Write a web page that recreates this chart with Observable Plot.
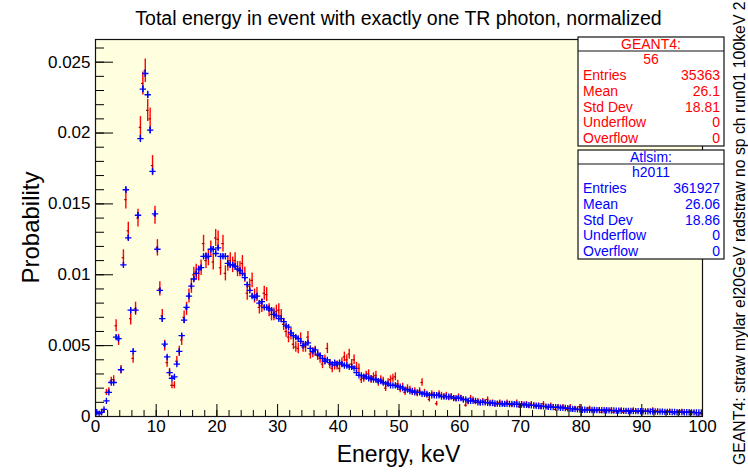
<!DOCTYPE html>
<html><head><meta charset="utf-8">
<script src="https://cdn.jsdelivr.net/npm/d3@7"></script>
<script src="https://cdn.jsdelivr.net/npm/@observablehq/plot@0.6"></script>
<style>body{margin:0;background:#fff;} svg{display:block}</style>
</head><body><div id="chart"></div>
<script>
// ---- data ----
const binWidth = 0.4; // keV, 250 bins from 0 to 100
const geantValues = [
0.0003,0.0002,0.0002,0.0004,0.0017,0.0018,0.0025,0.0026,0.0064,0.0054,
0.0033,0.0112,0.0153,0.0131,0.0069,0.0041,0.0076,0.0140,0.0204,0.0235,
0.0244,0.0216,0.0210,0.0177,0.0142,0.0119,0.0090,0.0071,0.0050,0.0038,
0.0031,0.0022,0.0022,0.0039,0.0046,0.0054,0.0070,0.0076,0.0085,0.0092,
0.0100,0.0102,0.0101,0.0105,0.0122,0.0110,0.0112,0.0118,0.0109,0.0126,
0.0125,0.0105,0.0122,0.0101,0.0108,0.0110,0.0107,0.0110,0.0104,0.0104,
0.0108,0.0100,0.0087,0.0092,0.0096,0.0085,0.0086,0.0077,0.0078,0.0087,
0.0086,0.0075,0.0072,0.0072,0.0074,0.0075,0.0071,0.0065,0.0060,0.0056,
0.0058,0.0051,0.0049,0.0048,0.0055,0.0049,0.0049,0.0056,0.0044,0.0045,
0.0046,0.0043,0.0041,0.0037,0.0040,0.0048,0.0037,0.0034,0.0036,
0.0036,0.0034,0.0038,0.0042,0.0040,0.0044,0.0037,0.0040,0.0035,0.0034,
0.0026,0.0027,0.0029,0.0030,0.0026,0.0028,0.0029,0.0024,0.0026,0.0025,
0.0020,0.0024,0.0026,0.0027,0.0028,0.0023,0.0019,0.0021,0.0017,0.0020,
0.0019,0.0017,0.0018,0.0016,0.0018,0.0024,0.0017,0.0015,0.0012,0.0016,
0.0015,0.0009,0.0016,0.0015,0.0014,0.0015,0.0013,0.0014,0.0013,0.0012,
0.0014,0.0013,0.0012,0.0008,0.0010,0.0013,0.0012,0.0010,0.0011,0.0009,
0.0011,0.0010,0.0012,0.0009,0.0010,0.0008,0.0009,0.0010,0.0009,0.0008,
0.0010,0.0009,0.0008,0.0009,0.0010,0.0007,0.0009,0.0008,0.0009,0.0007,
0.0009,0.0008,0.0007,0.0008,0.0006,0.0009,0.0007,0.0006,0.0008,0.0007,
0.0005,0.0007,0.0006,0.0007,0.0006,0.0005,0.0007,0.0004,0.0006,0.0005,
0.0007,0.0005,0.0004,0.0005,0.0006,0.0004,0.0005,0.0004,0.0005,0.0003,
0.0004,0.0005,0.0004,0.0005,0.0003,0.0004,0.0004,0.0005,0.0003,0.0004,
0.0004,0.0003,0.0005,0.0004,0.0003,0.0004,0.0003,0.0004,0.0004,0.0003,
0.0005,0.0003,0.0004,0.0003,0.0004,0.0003,0.0003,0.0004,0.0003,0.0002,
0.0003,0.0003,0.0004,0.0002,0.0003,0.0003,0.0002,0.0003,0.0002,0.0001,
0.0002
];
const atlsimValues = [
0.0003,0.0002,0.0003,0.0005,0.0011,0.0017,0.0024,0.0024,0.0056,0.0055,
0.0033,0.0107,0.0160,0.0126,0.0075,0.0046,0.0075,0.0142,0.0196,0.0231,
0.0242,0.0227,0.0202,0.0173,0.0143,0.0118,0.0089,0.0069,0.0051,0.0042,
0.0031,0.0027,0.0028,0.0037,0.0046,0.0057,0.0068,0.0077,0.0085,0.0092,
0.0097,0.0101,0.0104,0.0105,0.0113,0.0113,0.0113,0.0118,0.0118,0.0115,
0.0119,0.0113,0.0113,0.0113,0.0108,0.0107,0.0107,0.0106,0.0104,0.0103,
0.0101,0.0098,0.0093,0.0089,0.0085,0.0084,0.0085,0.0080,0.0081,0.0077,
0.0077,0.0076,0.0075,0.0072,0.0071,0.0069,0.0069,0.0067,0.0064,0.0063,
0.0059,0.0057,0.0056,0.0055,0.0053,0.0050,0.0051,0.0052,0.0048,0.0046,
0.0047,0.0044,0.0043,0.0041,0.0039,0.0040,0.0038,0.0037,0.0038,
0.0037,0.0038,0.0037,0.0036,0.0036,0.0035,0.0035,0.0034,0.0031,0.0029,
0.0029,0.0028,0.0028,0.0027,0.0027,0.0026,0.0026,0.0025,0.0025,0.0024,
0.0023,0.0023,0.0022,0.0022,0.0022,0.0021,0.0021,0.0020,0.0019,0.0019,
0.0018,0.0018,0.0017,0.0017,0.0017,0.0016,0.0016,0.0016,0.0015,0.0015,
0.0015,0.0015,0.0015,0.0014,0.0014,0.0014,0.0014,0.0014,0.0013,0.0013,
0.0013,0.0013,0.0012,0.0012,0.0011,0.0011,0.0011,0.0011,0.0010,0.0010,
0.0010,0.0010,0.00097,0.00095,0.00094,0.00092,0.00091,0.0009,0.0009,0.00089,
0.00089,0.00088,0.00088,0.00087,0.00086,0.00085,0.00085,0.00083,0.00082,0.0008,
0.00079,0.00078,0.00076,0.00074,0.00073,0.00071,0.0007,0.00068,0.00067,0.00066,
0.00065,0.00064,0.00062,0.00061,0.0006,0.00058,0.00056,0.00054,0.00052,0.0005,
0.00049,0.00048,0.00048,0.00047,0.00047,0.00046,0.00046,0.00045,0.00045,0.00044,
0.00044,0.00043,0.00043,0.00042,0.00042,0.00041,0.00041,0.0004,0.0004,0.0004,
0.00039,0.00039,0.00038,0.00038,0.00038,0.00037,0.00037,0.00036,0.00036,0.00036,
0.00035,0.00035,0.00035,0.00034,0.00034,0.00033,0.00033,0.00033,0.00032,0.00032,
0.00031,0.00031,0.00031,0.0003,0.0003,0.0003,0.00029,0.00029,0.00028,0.00028,
0.00028
];
const xTicks = [0, 10, 20, 30, 40, 50, 60, 70, 80, 90, 100];
const yTicks = [0, 0.005, 0.01, 0.015, 0.02, 0.025];
const statLabels = ["Entries", "Mean", "Std Dev", "Underflow", "Overflow"];
const geantStats = ["35363", "26.1", "18.81", "0", "0"];
const atlsimStats = ["361927", "26.06", "18.86", "0", "0"];
const geantEntries = 35363, atlsimEntries = 361927;

// ---- build tables ----
function table(values, entries) {
  return values.map((p, i) => ({e: (i + 0.5) * binWidth, p, err: Math.sqrt(p / entries)}));
}
const red = table(geantValues, geantEntries);
const blue = table(atlsimValues, atlsimEntries);
const xMinor = d3.range(0, 100.001, 2);
const yMinor = d3.range(0, 0.0265, 0.001);

const FONT = "'Liberation Sans', Arial, Helvetica, sans-serif";
const plot = Plot.plot({
  width: 748, height: 476,
  marginLeft: 95, marginRight: 46, marginTop: 39, marginBottom: 60,
  x: {domain: [0, 100]},
  y: {domain: [0, 0.0266]},
  style: {fontFamily: FONT, fontSize: "17px", background: "white", color: "black", overflow: "visible"},
  marks: [
    Plot.frame({fill: "#FFFFE0", stroke: null}),
    Plot.ruleX(red, {x: "e", y1: d => d.p - d.err, y2: d => d.p + d.err, stroke: "#ff0000", strokeWidth: 1.4, clip: true}),
    Plot.ruleY(red, {y: "p", x1: d => d.e - binWidth / 2, x2: d => d.e + binWidth / 2, stroke: "#aa0000", strokeWidth: 1.2, clip: true}),
    Plot.ruleX(blue, {x: "e", y1: d => d.p - d.err, y2: d => d.p + d.err, stroke: "#0000ff", strokeWidth: 1.3, clip: true}),
    Plot.dot(blue, {x: "e", y: "p", symbol: "plus", r: 2.2, stroke: "#0000ff", strokeWidth: 1.3, clip: true}),
    Plot.axisX({ticks: xMinor, tickSize: -6, tickPadding: 0, tickFormat: () => "", label: null}),
    Plot.axisX({ticks: xTicks, tickSize: -12, tickPadding: 15, tickFormat: d => String(d), label: null, fontSize: 17}),
    Plot.axisY({ticks: yMinor, tickSize: -9, tickPadding: 0, tickFormat: () => "", label: null}),
    Plot.axisY({ticks: yTicks, tickSize: -18, tickPadding: 23, tickFormat: d => String(d), label: null, fontSize: 17}),
    Plot.frame({stroke: "#111", strokeWidth: 1.2})
  ]
});
document.getElementById("chart").appendChild(plot);

// ---- annotations ----
const sx = plot.scale("x"), sy = plot.scale("y");
const xl = sx.apply(0), xr = sx.apply(100), yb = sy.apply(0), yt = sy.apply(0.0266);
const svg = d3.select(plot);
const g = svg.append("g").attr("font-family", FONT).attr("text-anchor", "start");
g.append("text").attr("x", (xl + xr) / 2).attr("y", 25).attr("text-anchor", "middle")
  .attr("font-size", 19.5).text("Total energy in event with exactly one TR photon, normalized");
g.append("text").attr("x", (xl + xr) / 2).attr("y", 462).attr("text-anchor", "middle")
  .attr("font-size", 23).text("Energy, keV");
g.append("text").attr("transform", `translate(39,${(yb + yt) / 2}) rotate(-90)`).attr("text-anchor", "middle")
  .attr("font-size", 24).text("Probability");
g.append("text").attr("transform", `translate(745,465) rotate(-90)`).attr("text-anchor", "start")
  .attr("font-size", 15.8).text("GEANT4: straw mylar el20GeV radstraw no sp ch run01 100keV 2");

function statBox(top, color, header, name, values) {
  const left = 578, w = 146, hdr = 14, rows = 16;
  const box = g.append("g");
  box.append("rect").attr("x", left).attr("y", top).attr("width", w).attr("height", hdr + rows * 6 - 1)
    .attr("fill", "white").attr("stroke", "#111").attr("stroke-width", 1.2);
  box.append("line").attr("x1", left).attr("x2", left + w).attr("y1", top + hdr).attr("y2", top + hdr)
    .attr("stroke", "#111").attr("stroke-width", 1.2);
  box.append("text").attr("x", left + w / 2).attr("y", top + 12).attr("text-anchor", "middle")
    .attr("font-size", 14).attr("fill", color).text(header);
  box.append("text").attr("x", left + w / 2).attr("y", top + 27).attr("text-anchor", "middle")
    .attr("font-size", 14).attr("fill", color).text(name);
  statLabels.forEach((l, i) => {
    const y = top + 43 + i * 15.8;
    box.append("text").attr("x", left + 5).attr("y", y).attr("text-anchor", "start")
      .attr("font-size", 14).attr("fill", color).text(l);
    box.append("text").attr("x", left + w - 4).attr("y", y).attr("text-anchor", "end")
      .attr("font-size", 14).attr("fill", color).text(values[i]);
  });
}
statBox(37, "#ff0000", "GEANT4:", "56", geantStats);
statBox(150, "#0000ff", "Atlsim:", "h2011", atlsimStats);
</script>
</body></html>
